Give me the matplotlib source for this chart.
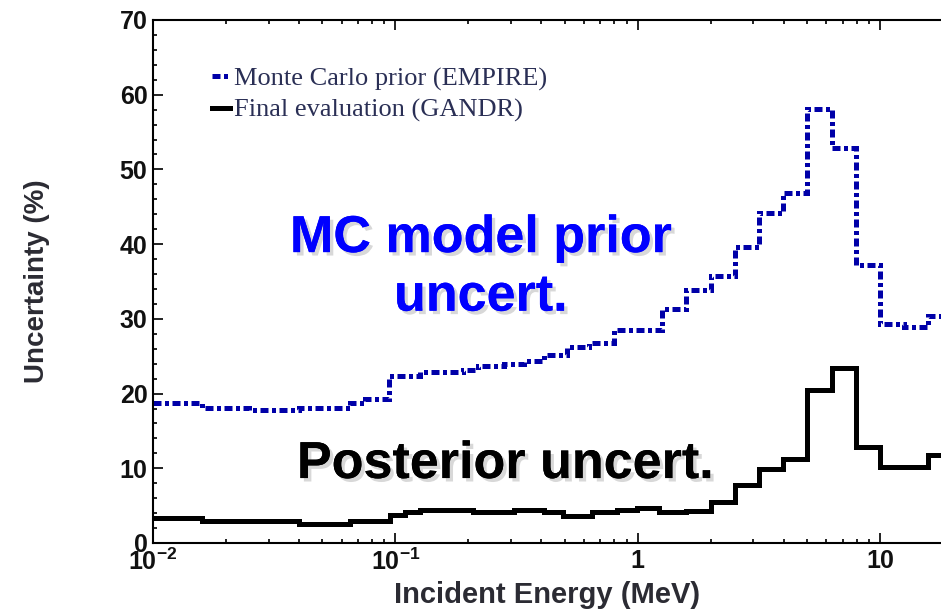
import matplotlib
matplotlib.use("Agg")
import matplotlib.pyplot as plt
import matplotlib.patheffects as pe
from matplotlib.ticker import FixedLocator, FixedFormatter, MultipleLocator, LogLocator, NullFormatter

plt.rcParams["font.family"] = ["Liberation Sans", "DejaVu Sans"]
plt.rcParams["mathtext.fontset"] = "custom"
plt.rcParams["mathtext.bf"] = "Liberation Sans:bold"
plt.rcParams["mathtext.rm"] = "Liberation Sans:bold"

# group edges (MeV) and uncertainties (%)
prior_edges = [0.01, 0.016, 0.025, 0.040, 0.065, 0.075, 0.094, 0.126, 0.19, 0.22,
               0.28, 0.34, 0.41, 0.51, 0.63, 0.80, 1.26, 1.58, 2.0, 2.51,
               3.16, 3.98, 5.01, 6.31, 7.94, 10.0, 12.6, 15.8, 20.0]
prior_unc = [18.8, 18.1, 17.8, 18.1, 18.7, 19.3, 22.4, 22.9, 23.2, 23.7,
             24.0, 24.3, 25.2, 26.2, 26.8, 28.5, 31.3, 33.9, 35.7, 39.6,
             44.2, 46.9, 58.1, 52.9, 37.2, 29.3, 28.9, 30.4]

post_edges = [0.01, 0.016, 0.040, 0.065, 0.095, 0.11, 0.126, 0.21, 0.31, 0.41,
              0.49, 0.65, 0.82, 0.99, 1.23, 1.58, 2.0, 2.51, 3.16, 3.98,
              5.01, 6.31, 7.94, 10.0, 15.8, 20.0]
post_unc = [3.3, 2.9, 2.6, 3.0, 3.7, 4.1, 4.4, 4.2, 4.4, 4.1,
            3.6, 4.1, 4.4, 4.7, 4.1, 4.3, 5.5, 7.7, 9.9, 11.2,
            20.5, 23.4, 12.9, 10.2, 11.8]

x_ticks = [0.01, 0.1, 1, 10]
x_tick_labels = [r"$\mathbf{10^{-2}}$", r"$\mathbf{10^{-1}}$", "1", "10"]

fig = plt.figure(figsize=(9.41, 6.11), dpi=100)
ax = fig.add_axes([0.1626, 0.1113, 0.8374, 0.856])

ax.stairs(prior_unc, prior_edges, baseline=None, color="#0000a8", linewidth=3.6,
          linestyle=(0, (1.6, 0.7, 0.8, 0.7)), label="Monte Carlo prior (EMPIRE)")
ax.stairs(post_unc, post_edges, baseline=None, color="black", linewidth=3.6,
          label="Final evaluation (GANDR)")

ax.set_xscale("log")
ax.set_xlim(0.01, 10 ** 1.2515)
ax.set_ylim(0, 70)

ax.xaxis.set_major_locator(FixedLocator(x_ticks))
ax.xaxis.set_major_formatter(FixedFormatter(x_tick_labels))
ax.xaxis.set_minor_locator(LogLocator(base=10, subs=range(2, 10)))
ax.xaxis.set_minor_formatter(NullFormatter())
ax.yaxis.set_major_locator(MultipleLocator(10))
ax.yaxis.set_minor_locator(MultipleLocator(2))

ax.tick_params(which="both", direction="in", top=True, right=False, width=1.3,
               labelsize=18, pad=4, colors="#111111")
ax.tick_params(which="major", length=7)
ax.tick_params(which="minor", length=3)
for lab in ax.get_xticklabels() + ax.get_yticklabels():
    lab.set_fontweight("bold")

for side in ["left", "bottom", "top"]:
    ax.spines[side].set_linewidth(1.5)
ax.spines["right"].set_visible(False)

ax.set_xlabel("Incident Energy (MeV)", fontsize=21, fontweight="bold",
              color="#2b2b33", labelpad=4)
ax.set_ylabel("Uncertainty (%)", fontsize=20, fontweight="bold",
              color="#2b2b33", labelpad=50)

leg = ax.legend(loc="upper left", bbox_to_anchor=(0.058, 0.935), frameon=False,
                handlelength=0.7, handletextpad=0.15, labelspacing=0.28,
                borderpad=0, prop={"family": "Liberation Serif", "size": 19})
for t in leg.get_texts():
    t.set_color("#2a2f55")

shadow = [pe.withSimplePatchShadow(offset=(2.5, -2.5), shadow_rgbFace="gray", alpha=0.3),
          pe.Normal()]
ax.text(0.416, 0.582, "MC model prior", transform=ax.transAxes, ha="center", va="center",
        fontsize=37.5, fontweight="bold", color="#0000ff", path_effects=shadow)
ax.text(0.416, 0.470, "uncert.", transform=ax.transAxes, ha="center", va="center",
        fontsize=37.5, fontweight="bold", color="#0000ff", path_effects=shadow)
ax.text(0.447, 0.150, "Posterior uncert.", transform=ax.transAxes, ha="center", va="center",
        fontsize=37.5, fontweight="bold", color="black", path_effects=shadow)

fig.savefig("out.png", dpi=100)
